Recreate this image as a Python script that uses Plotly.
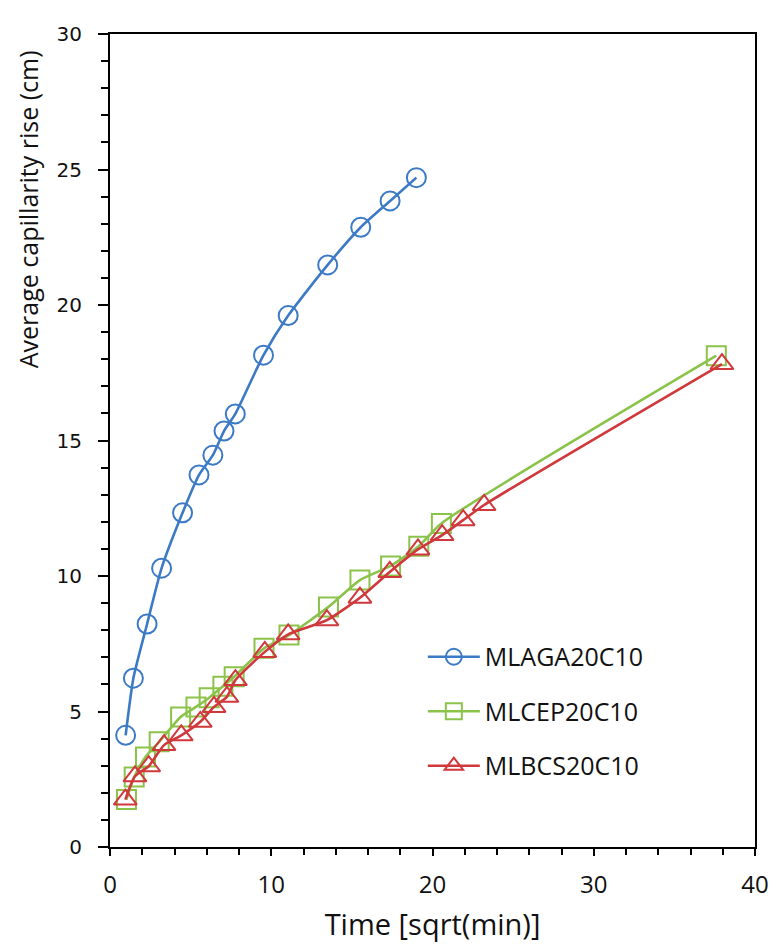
import plotly.graph_objects as go

# ---- data ----
x_aga = [0.97, 1.45, 2.3, 3.2, 4.5, 5.52, 6.38, 7.07, 7.77, 9.52, 11.05, 13.5, 15.55, 17.37, 19.0]
y_aga = [4.12, 6.23, 8.23, 10.29, 12.33, 13.73, 14.46, 15.35, 15.98, 18.15, 19.61, 21.48, 22.87, 23.84, 24.7]

x_cep = [1.02, 1.5, 2.2, 3.05, 4.38, 5.33, 6.15, 7.0, 7.7, 9.55, 11.1, 13.55, 15.5, 17.4, 19.15, 20.55, 37.6]
y_cep = [1.75, 2.58, 3.32, 3.88, 4.80, 5.17, 5.51, 5.93, 6.28, 7.33, 7.82, 8.86, 9.85, 10.37, 11.10, 11.94, 18.13]

x_bcs = [0.95, 1.55, 2.4, 3.35, 4.42, 5.6, 6.45, 7.25, 7.78, 9.6, 11.05, 13.45, 15.5, 17.35, 19.1, 20.6, 21.9, 23.2, 37.95]
y_bcs = [1.75, 2.61, 2.98, 3.76, 4.12, 4.62, 5.17, 5.54, 6.16, 7.2, 7.85, 8.37, 9.2, 10.15, 10.98, 11.51, 12.06, 12.62, 17.82]

names = ["MLAGA20C10", "MLCEP20C10", "MLBCS20C10"]
colors = ["#3D7AC6", "#8BC34A", "#D0383C"]
symbols = ["circle-open", "square-open", "triangle-up-open"]

x_ticks = [0, 10, 20, 30, 40]
y_ticks = [0, 5, 10, 15, 20, 25, 30]

FONT = "Open Sans"

fig = go.Figure()
for i, (xs, ys) in enumerate([(x_aga, y_aga), (x_cep, y_cep), (x_bcs, y_bcs)]):
    fig.add_trace(go.Scatter(
        x=xs, y=ys, mode="lines+markers", name=names[i],
        legendgroup=names[i],
        line=dict(color=colors[i], width=2.6, shape="spline", smoothing=0.6),
        marker=dict(symbol=symbols[i], size=19 if i != 2 else 20,
                    color=colors[i], line=dict(width=2, color=colors[i])),
    ))

fig.update_layout(
    width=781, height=950,
    margin=dict(l=110, r=17, t=34, b=103),
    paper_bgcolor="white", plot_bgcolor="white",
    font=dict(family=FONT, color="#111111", size=22),
    showlegend=True,
    legend=dict(x=0.485, y=0.262, xanchor="left", yanchor="top",
                bgcolor="rgba(0,0,0,0)", font=dict(size=25, family=FONT, color="#111111"),
                tracegroupgap=19, itemwidth=52),
    xaxis=dict(
        range=[0, 40], tickvals=x_ticks, ticktext=[str(v) for v in x_ticks],
        showgrid=False, zeroline=False,
        showline=True, linecolor="black", linewidth=2, mirror=True,
        ticks="outside", ticklen=7, tickwidth=2, tickcolor="black",
        minor=dict(dtick=2, ticks="outside", ticklen=6, tickwidth=2, tickcolor="black"),
        tickfont=dict(size=24, family=FONT),
        ticklabelstandoff=8, ticklabeloverflow="allow",
        title=dict(text="Time [sqrt(min)]", font=dict(size=29, family=FONT), standoff=16),
    ),
    yaxis=dict(
        range=[0, 30], tickvals=y_ticks, ticktext=[str(v) for v in y_ticks],
        showgrid=False, zeroline=False,
        showline=True, linecolor="black", linewidth=2, mirror=True,
        ticks="outside", ticklen=10, tickwidth=2, tickcolor="black",
        minor=dict(dtick=1, ticks="outside", ticklen=7, tickwidth=2, tickcolor="black"),
        tickfont=dict(size=20, family="DejaVu Sans"),
        ticklabelstandoff=12,
    ),
    annotations=[dict(
        text="Average capillarity rise (cm)", textangle=-90,
        xref="paper", yref="paper", x=-0.128, y=0.785,
        xanchor="center", yanchor="middle", showarrow=False,
        font=dict(size=25, family=FONT, color="#111111"),
    )],
)

fig.write_html("out.html")
